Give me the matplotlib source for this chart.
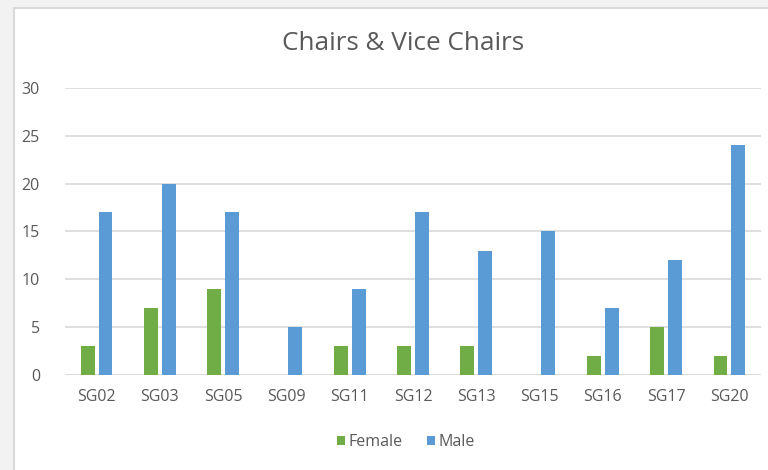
import numpy as np
import matplotlib
matplotlib.use("Agg")
import matplotlib.pyplot as plt
import matplotlib.patches as patches

plt.rcParams['font.family'] = ['Open Sans', 'DejaVu Sans']

groups = ["SG02", "SG03", "SG05", "SG09", "SG11", "SG12", "SG13", "SG15", "SG16", "SG17", "SG20"]
female = [3, 7, 9, 0, 3, 3, 3, 0, 2, 5, 2]
male = [17, 20, 17, 5, 9, 17, 13, 15, 7, 12, 24]

GREEN = "#70ad47"
BLUE = "#5b9bd5"
TEXT = "#595959"
GRID = "#d9d9d9"

fig = plt.figure(figsize=(7.68, 4.70), dpi=100, facecolor="#f2f2f2")

# chart area frame, runs off the right and bottom edges
frame = patches.Rectangle((14 / 768, -0.1), 1.0, 1 - 8 / 470 + 0.1,
                          transform=fig.transFigure, facecolor="white",
                          edgecolor=GRID, linewidth=1.5, zorder=0)
fig.add_artist(frame)

ax = fig.add_axes([65 / 768, 1 - 375 / 470, 696 / 768, 287 / 470])
ax.set_facecolor("none")

x = np.arange(len(groups))
w = 0.22
gap = 0.06
ax.bar(x - (w + gap) / 2, female, w, color=GREEN, label="Female", zorder=3)
ax.bar(x + (w + gap) / 2, male, w, color=BLUE, label="Male", zorder=3)

ax.set_xlim(-0.5, len(groups) - 0.5)
ax.set_ylim(0, 30)
ax.set_yticks(range(0, 31, 5))
ax.set_xticks(x)
ax.set_xticklabels(groups)
ax.yaxis.grid(True, color=GRID, linewidth=1.2, zorder=0)
ax.set_axisbelow(True)
for s in ax.spines.values():
    s.set_visible(False)
ax.axhline(0, color=GRID, linewidth=1.2, zorder=2)
ax.tick_params(length=0, labelsize=11.5, labelcolor=TEXT)
ax.tick_params(axis="y", pad=18)
ax.tick_params(axis="x", pad=10)

fig.text(403 / 768, 1 - 44 / 470, "Chairs & Vice Chairs", ha="center", va="center",
         fontsize=18.8, color=TEXT)

fig.legend(loc="center", bbox_to_anchor=(406 / 768, 1 - 442 / 470), ncol=2, frameon=False,
           fontsize=11.5, labelcolor=TEXT, handlelength=0.5, handleheight=0.5,
           handletextpad=0.25, columnspacing=1.5)

fig.savefig("out.png", dpi=100, facecolor=fig.get_facecolor())
